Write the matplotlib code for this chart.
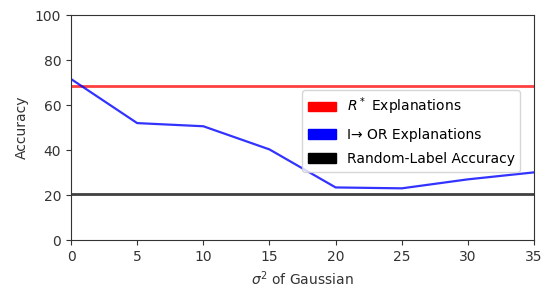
import matplotlib
matplotlib.use("Agg")
import matplotlib.pyplot as plt
from matplotlib.patches import Patch

sigma2 = [0, 5, 10, 15, 20, 25, 30, 35]
io_acc = [71.6, 52.0, 50.6, 40.3, 23.4, 23.0, 27.0, 30.1]
r_star_acc = 68.4
random_acc = 20.3
labels = ["$R^*$ Explanations", "I→ OR Explanations", "Random-Label Accuracy"]
colors = ["red", "blue", "black"]

fig = plt.figure(figsize=(5.48, 2.91), dpi=100)
ax = fig.add_axes([0.1296, 0.175, 0.845, 0.773])
ax.axhline(r_star_acc, color="red", lw=2, alpha=0.75)
ax.plot(sigma2, io_acc, color="blue", lw=1.6, alpha=0.8)
ax.axhline(random_acc, color="black", lw=2, alpha=0.75)
ax.set_xlim(0, 35)
ax.set_ylim(0, 100)
ax.set_xticks([0, 5, 10, 15, 20, 25, 30, 35])
ax.set_yticks([0, 20, 40, 60, 80, 100])
ax.set_xlabel("$\\sigma^2$ of Gaussian", color="#333333")
ax.set_ylabel("Accuracy", color="#333333")
ax.tick_params(colors="#333333", labelsize=10)
for s in ax.spines.values():
    s.set_color("#333333")
handles = [Patch(color=c) for c in colors]
ax.legend(handles, labels, loc="center right", bbox_to_anchor=(0.985, 0.485),
          fontsize=10, labelspacing=0.75)
fig.savefig("out.png", dpi=100)
